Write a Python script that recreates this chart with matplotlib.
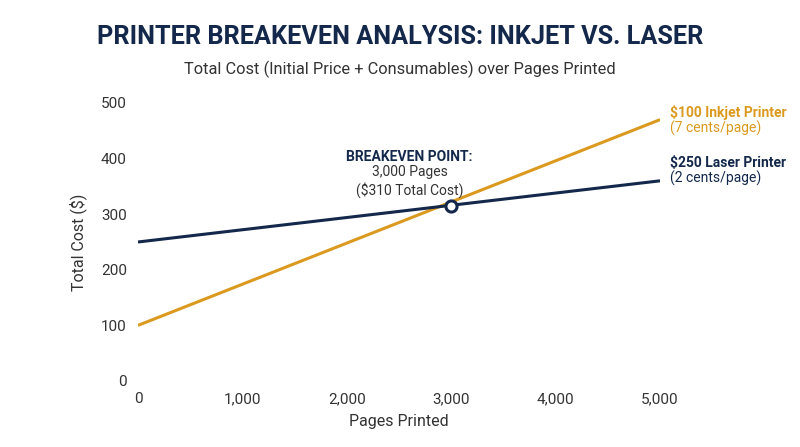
import matplotlib
matplotlib.use("Agg")
import matplotlib.pyplot as plt

pages = [0, 5000]
inkjet_cost = [100, 470]
laser_cost = [250, 360]
breakeven_x = 3000
breakeven_y = 315
xticks = [0, 1000, 2000, 3000, 4000, 5000]
yticks = [0, 100, 200, 300, 400, 500]

NAVY = "#13284a"
ORANGE = "#db9a1f"
plt.rcParams['font.family'] = ['Roboto', 'DejaVu Sans']

fig = plt.figure(figsize=(8, 4.47), dpi=100)
ax = fig.add_axes([0.1725, 0.1477, 0.6525, 0.6219])
ax.plot(pages, inkjet_cost, color=ORANGE, lw=2.2, solid_capstyle='butt')
ax.plot(pages, laser_cost, color=NAVY, lw=2.2, solid_capstyle='butt')
ax.plot([breakeven_x], [breakeven_y], 'o', ms=8, mfc='white', mec=NAVY, mew=2.2, zorder=5)
ax.set_xlim(0, 5000)
ax.set_ylim(0, 500)
ax.set_xticks(xticks)
ax.set_xticklabels([f"{v:,}" for v in xticks])
ax.set_yticks(yticks)
for s in ax.spines.values():
    s.set_visible(False)
ax.tick_params(length=0, labelsize=11, colors='#333333', pad=8)
ax.set_xlabel("Pages Printed", fontsize=11.5, color='#333333', labelpad=6)
ax.set_ylabel("Total Cost ($)", fontsize=11.5, color='#333333', labelpad=10)

ax.text(breakeven_x - 400, 390, "BREAKEVEN POINT:", ha='center', va='bottom',
        fontsize=10, fontweight='bold', color=NAVY)
ax.text(breakeven_x - 400, 388, "3,000 Pages\n($310 Total Cost)", ha='center', va='top',
        fontsize=10, color='#333333', linespacing=1.2)

ax.text(5100, 470, "$100 Inkjet Printer", ha='left', va='bottom', fontsize=10,
        fontweight='bold', color=ORANGE, clip_on=False)
ax.text(5100, 468, "(7 cents/page)", ha='left', va='top', fontsize=10,
        color=ORANGE, clip_on=False)
ax.text(5100, 380, "$250 Laser Printer", ha='left', va='bottom', fontsize=10,
        fontweight='bold', color=NAVY, clip_on=False)
ax.text(5100, 378, "(2 cents/page)", ha='left', va='top', fontsize=10,
        color=NAVY, clip_on=False)

fig.text(0.5, 0.917, "PRINTER BREAKEVEN ANALYSIS: INKJET VS. LASER", ha='center',
         va='center', fontsize=18.2, fontweight='bold', color=NAVY)
fig.text(0.5, 0.845, "Total Cost (Initial Price + Consumables) over Pages Printed",
         ha='center', va='center', fontsize=11.8, color='#333333')
fig.savefig("out.png", dpi=100, facecolor='white')
